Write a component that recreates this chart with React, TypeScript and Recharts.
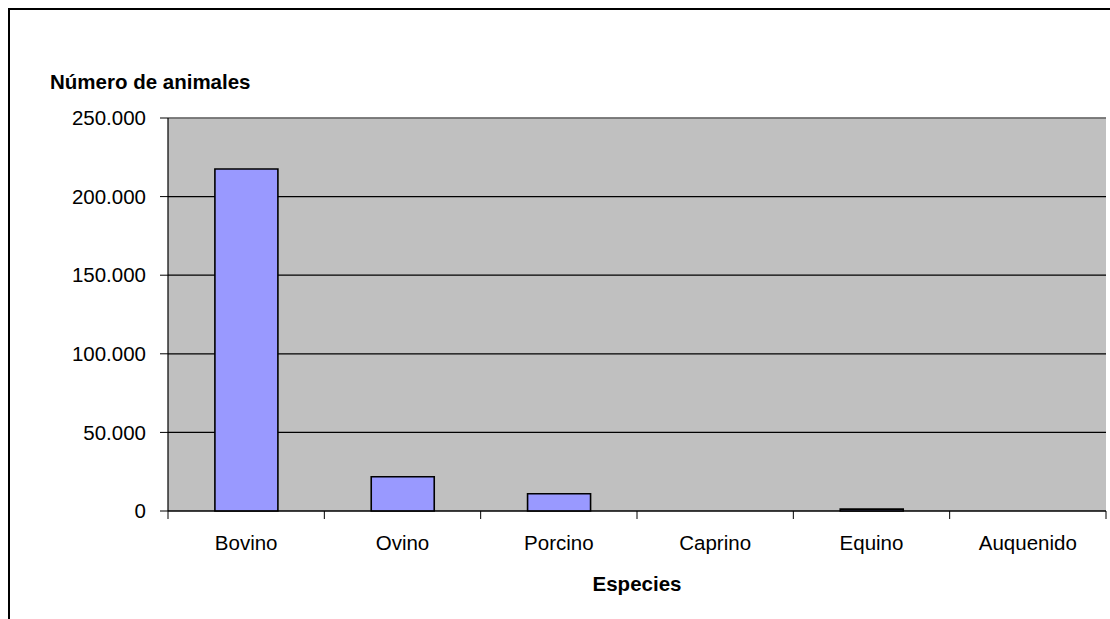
import { BarChart, Bar, XAxis, YAxis, CartesianGrid, ReferenceLine } from 'recharts';

// Número de animales por especie
const especies = ['Bovino', 'Ovino', 'Porcino', 'Caprino', 'Equino', 'Auquenido'];
const animales = [217600, 21800, 11000, 0, 1200, 0];
const yTicks = [0, 50000, 100000, 150000, 200000, 250000];

const data = especies.map((especie, i) => ({ especie, animales: animales[i] }));

const FONT = '"Liberation Sans", Arial, sans-serif';
const FS = 20.5;

const fmtMiles = (v: number) => String(v).replace(/\B(?=(\d{3})+(?!\d))/g, '.');

// category label centred in its band, tick marks on the band edges
function EspecieTick(props: any) {
  const { x, y, payload, index, visibleTicksCount } = props;
  const half = payload.offset ?? 0;
  return (
    <g>
      <line x1={x - half} x2={x - half} y1={y} y2={y + 8} stroke="#000" />
      {index === visibleTicksCount - 1 && (
        <line x1={x + half} x2={x + half} y1={y} y2={y + 8} stroke="#000" />
      )}
      <text x={x} y={y + 39} textAnchor="middle" fontSize={FS} fontFamily={FONT} fill="#000">
        {payload.value}
      </text>
    </g>
  );
}

export default function App() {
  return (
    <div style={{ position: 'fixed', left: 0, top: 0, width: 1110, height: 619, background: '#fff' }}>
      <div
        style={{
          position: 'absolute',
          left: 8,
          top: 8,
          width: 1102,
          height: 611,
          boxSizing: 'border-box',
          borderTop: '2px solid #000',
          borderLeft: '2px solid #000',
        }}
      />
      <BarChart
        width={1110}
        height={619}
        data={data}
        margin={{ top: 118, right: 4, bottom: 0, left: 0 }}
        barCategoryGap="30%"
        style={{ position: 'absolute', left: 0, top: 0, fontFamily: FONT }}
      >
        <CartesianGrid vertical={false} stroke="#000" strokeWidth={1.2} fill="#C0C0C0" fillOpacity={1} />
        <XAxis
          dataKey="especie"
          height={108}
          interval={0}
          tickLine={false}
          tickSize={0}
          tickMargin={0}
          axisLine={{ stroke: '#000', strokeWidth: 1.2 }}
          tick={<EspecieTick />}
        />
        <YAxis
          width={168}
          domain={[0, 250000]}
          ticks={yTicks}
          interval={0}
          tickSize={8}
          tickMargin={14}
          tickFormatter={fmtMiles}
          axisLine={{ stroke: '#000', strokeWidth: 1.2 }}
          tickLine={{ stroke: '#000' }}
          tick={{ fontSize: FS, fill: '#000', fontFamily: FONT }}
        />
        <YAxis
          yAxisId="borde"
          orientation="right"
          width={0}
          domain={[0, 1]}
          tick={false}
          tickLine={false}
          axisLine={{ stroke: '#808080', strokeWidth: 1.5 }}
        />
        <ReferenceLine y={250000} stroke="#808080" strokeWidth={1.5} />
        <Bar dataKey="animales" fill="#9999FF" stroke="#000" strokeWidth={1.6} isAnimationActive={false} />
      </BarChart>
      <svg
        width={1110}
        height={619}
        style={{ position: 'absolute', left: 0, top: 0, pointerEvents: 'none' }}
      >
        <text x={50} y={89} fontSize={FS} fontWeight="bold" fontFamily={FONT} fill="#000">
          Número de animales
        </text>
        <text x={637} y={591} textAnchor="middle" fontSize={FS} fontWeight="bold" fontFamily={FONT} fill="#000">
          Especies
        </text>
      </svg>
    </div>
  );
}
